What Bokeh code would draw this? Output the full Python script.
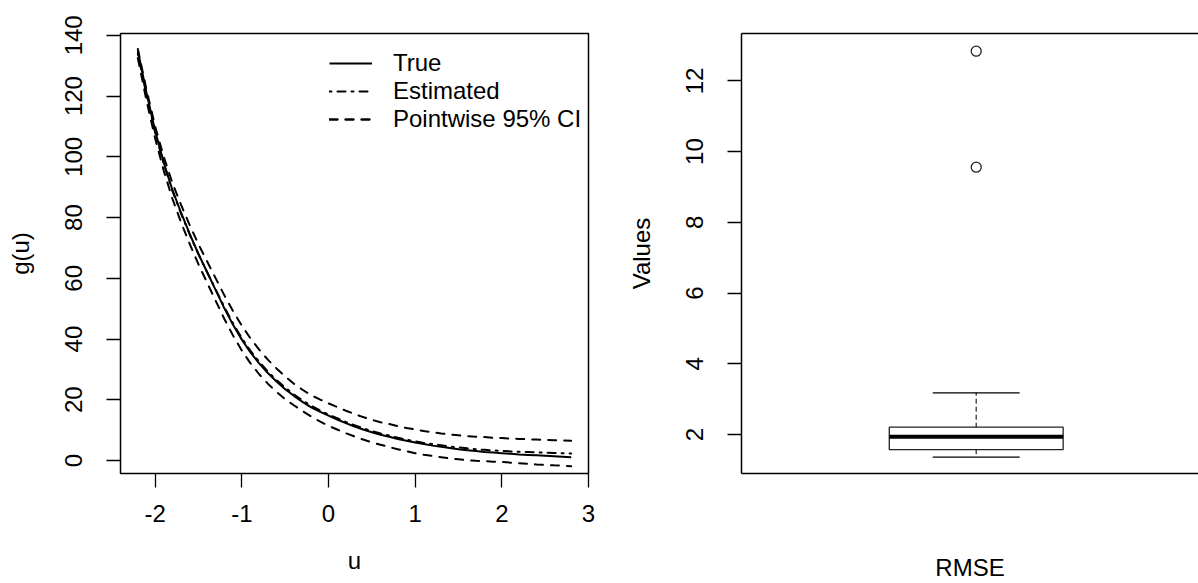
from bokeh.plotting import figure
from bokeh.models import Range1d, FixedTicker, Legend, LegendItem, LinearAxis
from bokeh.layouts import row
from bokeh.embed import file_html
from bokeh.resources import INLINE

# ---------------- data ----------------
u = [-2.2, -2.1, -2.0, -1.9, -1.8, -1.7, -1.6, -1.5, -1.4, -1.3, -1.2, -1.1, -1.0,
     -0.9, -0.8, -0.7, -0.6, -0.5, -0.4, -0.3, -0.2, -0.1, 0.0, 0.1, 0.2, 0.3, 0.4,
     0.5, 0.6, 0.7, 0.8, 0.9, 1.0, 1.1, 1.2, 1.3, 1.4, 1.5, 1.6, 1.7, 1.8, 1.9, 2.0,
     2.1, 2.2, 2.3, 2.4, 2.5, 2.6, 2.7, 2.8]

g_true = [135.0, 121.0, 108.5, 98.0, 89.0, 81.5, 74.5, 68.0, 62.0, 56.0, 50.0, 44.6, 39.8,
          35.6, 32.0, 28.8, 26.0, 23.5, 21.3, 19.3, 17.5, 16.1, 14.8, 13.5, 12.3, 11.2, 10.2,
          9.3, 8.5, 7.8, 7.1, 6.5, 5.9, 5.4, 4.9, 4.5, 4.1, 3.7, 3.4, 3.1, 2.8, 2.6, 2.4,
          2.2, 2.0, 1.85, 1.7, 1.55, 1.4, 1.25, 1.1]

g_est = [134.0, 120.3, 108.0, 97.6, 88.7, 81.2, 74.3, 67.9, 62.0, 56.2, 50.4, 45.1, 40.3,
         36.1, 32.5, 29.3, 26.5, 24.0, 21.8, 19.8, 18.0, 16.5, 15.1, 13.9, 12.7, 11.6, 10.6,
         9.7, 8.9, 8.2, 7.5, 6.9, 6.3, 5.8, 5.4, 5.0, 4.6, 4.3, 4.0, 3.7, 3.5, 3.3, 3.2,
         3.0, 2.9, 2.8, 2.7, 2.6, 2.5, 2.4, 2.3]

ci_upper = [135.5, 122.1, 110.0, 99.9, 91.3, 84.1, 77.4, 71.2, 65.5, 59.9, 54.3, 49.1, 44.4,
            40.2, 36.5, 33.2, 30.3, 27.7, 25.3, 23.3, 21.5, 20.1, 18.8, 17.6, 16.4, 15.3, 14.3,
            13.4, 12.6, 12.0, 11.3, 10.7, 10.2, 9.7, 9.3, 8.9, 8.6, 8.3, 8.0, 7.8, 7.7, 7.5, 7.4,
            7.2, 7.1, 7.0, 6.9, 6.8, 6.7, 6.6, 6.5]

ci_lower = [132.5, 118.5, 106.0, 95.3, 86.1, 78.3, 71.2, 64.6, 58.5, 52.5, 46.5, 41.1, 36.2,
            32.0, 28.4, 25.3, 22.6, 20.2, 18.2, 16.3, 14.5, 12.9, 11.4, 10.2, 9.0, 7.9, 6.9,
            6.0, 5.2, 4.4, 3.7, 3.1, 2.4, 1.9, 1.5, 1.1, 0.7, 0.4, 0.1, -0.1, -0.2, -0.4, -0.5,
            -0.7, -0.9, -1.1, -1.3, -1.4, -1.6, -1.7, -1.9]

legend_labels = ["True", "Estimated", "Pointwise 95% CI"]
x_ticks_left = [-2, -1, 0, 1, 2, 3]
x_tick_labels_left = ["-2", "-1", "0", "1", "2", "3"]
y_ticks_left = [0, 20, 40, 60, 80, 100, 120, 140]

# RMSE boxplot statistics
box_label = "RMSE"
box_pos = 1
rmse_lower_whisker = 1.36
rmse_q1 = 1.57
rmse_median = 1.935
rmse_q3 = 2.205
rmse_upper_whisker = 3.175
rmse_outliers = [9.56, 12.84]
y_ticks_right = [2, 4, 6, 8, 10, 12]

FONT = "Liberation Sans"
FS = "24px"


def style_axis(ax, ticks, label_standoff):
    ax.ticker = FixedTicker(ticks=ticks)
    ax.major_tick_out = 14
    ax.major_tick_in = 0
    ax.minor_tick_line_color = None
    ax.major_tick_line_color = "black"
    ax.major_tick_line_width = 1.3
    ax.major_label_text_font = FONT
    ax.major_label_text_font_size = FS
    ax.major_label_text_color = "black"
    ax.major_label_standoff = label_standoff
    ax.axis_label_text_font = FONT
    ax.axis_label_text_font_size = FS
    ax.axis_label_text_font_style = "normal"
    ax.axis_label_text_color = "black"


# ---------------- left panel ----------------
p1 = figure(width=599, height=583, x_range=Range1d(-2.4, 3.0), y_range=Range1d(-4.28, 140.6),
            output_backend="svg", toolbar_location=None,
            min_border_left=120, min_border_right=11, min_border_top=33, min_border_bottom=110)
p1.grid.grid_line_color = None
p1.outline_line_color = "black"
p1.outline_line_width = 1.5
p1.background_fill_color = "white"
p1.border_fill_color = "white"

style_axis(p1.xaxis[0], x_ticks_left, 17)
style_axis(p1.yaxis[0], y_ticks_left, 24)
p1.xaxis[0].major_label_overrides = {t: s for t, s in zip(x_ticks_left, x_tick_labels_left)}
p1.xaxis[0].axis_line_color = None
p1.yaxis[0].axis_line_color = None
p1.yaxis[0].major_label_orientation = "vertical"
p1.yaxis[0].axis_label = "g(u)"
p1.yaxis[0].axis_label_standoff = 29
p1.xaxis[0].axis_label = "u"
p1.xaxis[0].axis_label_standoff = 22

r_true = p1.line(u, g_true, line_color="black", line_width=2)
r_est = p1.line(u, g_est, line_color="black", line_width=2, line_dash="2 6 8 6", line_cap="round")
r_up = p1.line(u, ci_upper, line_color="black", line_width=2, line_dash="8 8", line_cap="round")
r_lo = p1.line(u, ci_lower, line_color="black", line_width=2, line_dash="8 8", line_cap="round")

legend = Legend(items=[LegendItem(label=legend_labels[0], renderers=[r_true]),
                       LegendItem(label=legend_labels[1], renderers=[r_est]),
                       LegendItem(label=legend_labels[2], renderers=[r_up, r_lo])],
                location=(209, 340), orientation="vertical",
                label_text_font=FONT, label_text_font_size=FS, label_text_color="black",
                glyph_width=43, glyph_height=28, label_height=28, label_standoff=21,
                spacing=0, padding=0, margin=0,
                border_line_color=None, background_fill_alpha=0)
p1.add_layout(legend)

# ---------------- right panel ----------------
p2 = figure(width=599, height=583, x_range=Range1d(0.46, 1.5114), y_range=Range1d(0.896, 13.34),
            output_backend="svg", toolbar_location=None, x_axis_location=None,
            min_border_left=142, min_border_right=0, min_border_top=33, min_border_bottom=110)
p2.grid.grid_line_color = None
p2.outline_line_color = None
p2.background_fill_color = "white"
p2.border_fill_color = "white"

style_axis(p2.yaxis[0], y_ticks_right, 24)
p2.yaxis[0].major_label_orientation = "vertical"
p2.yaxis[0].axis_label = "Values"
p2.yaxis[0].axis_label_standoff = 29
p2.yaxis[0].axis_line_color = "black"
p2.yaxis[0].axis_line_width = 1.5

top_ax = LinearAxis(ticker=FixedTicker(ticks=[]), axis_line_color="black", axis_line_width=1.5,
                    major_tick_line_color=None, minor_tick_line_color=None,
                    major_tick_out=0, major_label_standoff=0, major_label_text_font_size="0px")
p2.add_layout(top_ax, "above")
bot_ax = LinearAxis(ticker=FixedTicker(ticks=[]), axis_line_color="black", axis_line_width=1.5,
                    major_tick_line_color=None, minor_tick_line_color=None,
                    major_tick_out=0, major_label_standoff=0, major_label_text_font_size="0px",
                    axis_label=box_label, axis_label_text_font=FONT, axis_label_text_font_size=FS,
                    axis_label_text_font_style="normal", axis_label_text_color="black",
                    axis_label_standoff=80)
p2.add_layout(bot_ax, "below")

half_box = 0.2
half_staple = 0.1
# whiskers
p2.segment(x0=[box_pos, box_pos], y0=[rmse_q3, rmse_q1], x1=[box_pos, box_pos],
           y1=[rmse_upper_whisker, rmse_lower_whisker],
           line_color="#333333", line_width=1.3, line_dash="4 4", line_cap="round")
# staples
p2.segment(x0=[box_pos - half_staple] * 2, x1=[box_pos + half_staple] * 2,
           y0=[rmse_upper_whisker, rmse_lower_whisker], y1=[rmse_upper_whisker, rmse_lower_whisker],
           line_color="black", line_width=1.3)
# box
p2.quad(left=[box_pos - half_box], right=[box_pos + half_box], bottom=[rmse_q1], top=[rmse_q3],
        fill_color="white", line_color="#222222", line_width=1.3)
# median
p2.segment(x0=[box_pos - half_box], x1=[box_pos + half_box], y0=[rmse_median], y1=[rmse_median],
           line_color="black", line_width=4)
# outliers
p2.scatter(x=[box_pos] * len(rmse_outliers), y=rmse_outliers, marker="circle", size=10,
           fill_color=None, line_color="#222222", line_width=1.3)

layout = row(p1, p2)
open("out.html", "w").write(file_html(layout, INLINE))
